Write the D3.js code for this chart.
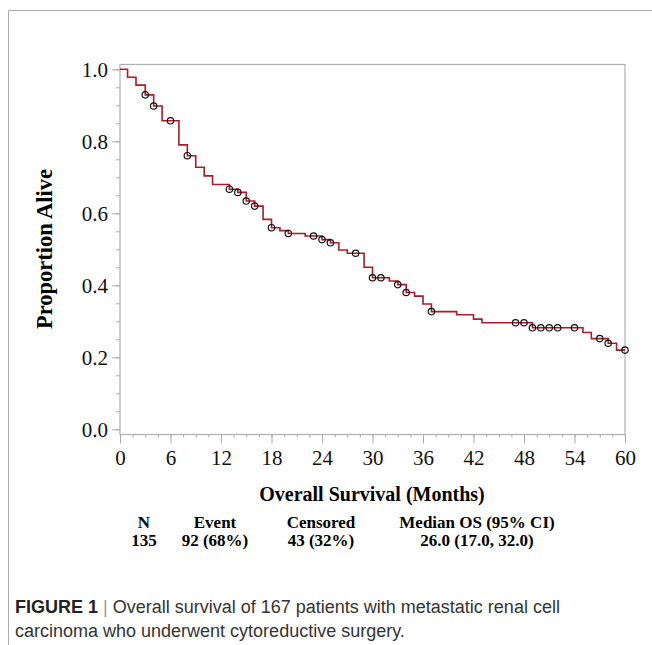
<!DOCTYPE html>
<html>
<head>
<meta charset="utf-8">
<script src="https://cdn.jsdelivr.net/npm/d3@7"></script>
<style>
  body { margin: 0; background: #fff; }
  svg { display: block; }
  .tick text { font-family: "Liberation Serif", "Times New Roman", serif; fill: #111; }
</style>
</head>
<body>
<svg id="chart" width="652" height="645"></svg>
<script>
// Kaplan-Meier steps (months, proportion alive after the drop)
const eventTimes = [0.9, 1.9, 3, 4, 5, 7, 8, 9, 10, 11, 13, 14, 15, 16, 17, 18, 19, 20, 22, 24,
  25, 26, 27, 29, 30, 32, 33, 34, 35, 36, 37, 40, 42, 43, 49, 55, 56, 58, 59];
const survival = [0.978, 0.956, 0.929, 0.898, 0.857, 0.79, 0.76, 0.728, 0.704, 0.68,
  0.667, 0.658, 0.634, 0.62, 0.583, 0.56, 0.552, 0.544, 0.537, 0.527,
  0.518, 0.498, 0.489, 0.45, 0.421, 0.412, 0.402, 0.38, 0.37, 0.348,
  0.327, 0.318, 0.306, 0.296, 0.282, 0.269, 0.252, 0.239, 0.22];
const censorTimes = [3, 4, 6, 8, 13, 14, 15, 16, 18, 20, 23, 24, 25, 28, 30, 31, 33, 34, 37,
  47, 48, 49, 50, 51, 52, 54, 57, 58, 60];
const xTicks = [0, 6, 12, 18, 24, 30, 36, 42, 48, 54, 60];
const yTicks = [0, 0.2, 0.4, 0.6, 0.8, 1.0];
const tableHead = ["N", "Event", "Censored", "Median OS (95% CI)"];
const tableRow = ["135", "92 (68%)", "43 (32%)", "26.0 (17.0, 32.0)"];

const svg = d3.select("#chart");

// outer figure border (top + left)
svg.append("path")
  .attr("d", "M8.5,645V10.5H652")
  .attr("fill", "none")
  .attr("stroke", "#aaa")
  .attr("stroke-width", 1);

const x = d3.scaleLinear().domain([0, 60]).range([120, 625]);
const y = d3.scaleLinear().domain([0, 1]).range([429.3, 69.3]);
const frameTop = 64.5, frameBottom = 434.5;

// x axis (major + minor ticks)
svg.append("g")
  .attr("transform", `translate(0,${frameBottom})`)
  .call(d3.axisBottom(x).tickValues(d3.range(0, 60.01, 1.5)).tickSize(3).tickFormat(""))
  .call(g => g.select(".domain").remove())
  .call(g => g.selectAll("line").attr("stroke", "#aaa"));
svg.append("g")
  .attr("transform", `translate(0,${frameBottom})`)
  .call(d3.axisBottom(x).tickValues(xTicks).tickSize(9).tickPadding(7).tickFormat(d3.format("d")))
  .call(g => g.select(".domain").remove())
  .call(g => g.selectAll("line").attr("stroke", "#aaa"))
  .call(g => g.selectAll("text").attr("font-size", 21));

// y axis
svg.append("g")
  .attr("transform", "translate(120,0)")
  .call(d3.axisLeft(y).tickValues(d3.range(0, 1.001, 0.05)).tickSize(4).tickFormat(""))
  .call(g => g.select(".domain").remove())
  .call(g => g.selectAll("line").attr("stroke", "#aaa"));
svg.append("g")
  .attr("transform", "translate(120,0)")
  .call(d3.axisLeft(y).tickValues(yTicks).tickSize(8).tickPadding(4).tickFormat(d3.format(".1f")))
  .call(g => g.select(".domain").remove())
  .call(g => g.selectAll("line").attr("stroke", "#aaa"))
  .call(g => g.selectAll("text").attr("font-size", 21));

// plot frame
svg.append("rect")
  .attr("x", x(0)).attr("y", frameTop)
  .attr("width", x(60) - x(0)).attr("height", frameBottom - frameTop)
  .attr("fill", "none").attr("stroke", "#b0b0b0").attr("stroke-width", 1.2);

// survival curve
const pts = [{ t: 0, s: 1 }].concat(eventTimes.map((t, i) => ({ t, s: survival[i] })));
pts.push({ t: 60, s: survival[survival.length - 1] });
const line = d3.line().x(d => x(d.t)).y(d => y(d.s)).curve(d3.curveStepAfter);
svg.append("path")
  .datum(pts)
  .attr("d", line)
  .attr("fill", "none")
  .attr("stroke", "#a61e2a")
  .attr("stroke-width", 1.6);

// censor marks
const sAt = t => {
  let s = 1;
  eventTimes.forEach((e, i) => { if (e <= t) s = survival[i]; });
  return s;
};
svg.append("g").selectAll("circle")
  .data(censorTimes)
  .join("circle")
  .attr("cx", d => x(d))
  .attr("cy", d => y(sAt(d)))
  .attr("r", 3.2)
  .attr("fill", "none")
  .attr("stroke", "#111")
  .attr("stroke-width", 1.2);

// axis titles
svg.append("text")
  .attr("x", 372).attr("y", 501)
  .attr("text-anchor", "middle")
  .attr("font-family", "Liberation Serif, serif")
  .attr("font-weight", "bold").attr("font-size", 20)
  .text("Overall Survival (Months)");
svg.append("text")
  .attr("transform", "translate(52,249) rotate(-90)")
  .attr("text-anchor", "middle")
  .attr("font-family", "Liberation Serif, serif")
  .attr("font-weight", "bold").attr("font-size", 22.5)
  .text("Proportion Alive");

// summary table
const colX = [144, 215, 321, 477];
[tableHead, tableRow].forEach((row, r) => {
  svg.append("g").selectAll("text")
    .data(row)
    .join("text")
    .attr("x", (d, i) => colX[i])
    .attr("y", 528 + r * 18)
    .attr("text-anchor", "middle")
    .attr("font-family", "Liberation Serif, serif")
    .attr("font-weight", "bold").attr("font-size", 17)
    .text(d => d);
});

// caption
const cap = svg.append("g")
  .attr("font-family", "Liberation Sans, Arial, sans-serif")
  .attr("font-size", 18)
  .attr("fill", "#333");
const l1 = cap.append("text").attr("x", 15).attr("y", 613);
l1.append("tspan").attr("font-weight", "bold").attr("fill", "#222").text("FIGURE 1");
l1.append("tspan").attr("fill", "#999").text(" | ");
l1.append("tspan").text("Overall survival of 167 patients with metastatic renal cell");
cap.append("text").attr("x", 15).attr("y", 637)
  .text("carcinoma who underwent cytoreductive surgery.");
</script>
</body>
</html>
